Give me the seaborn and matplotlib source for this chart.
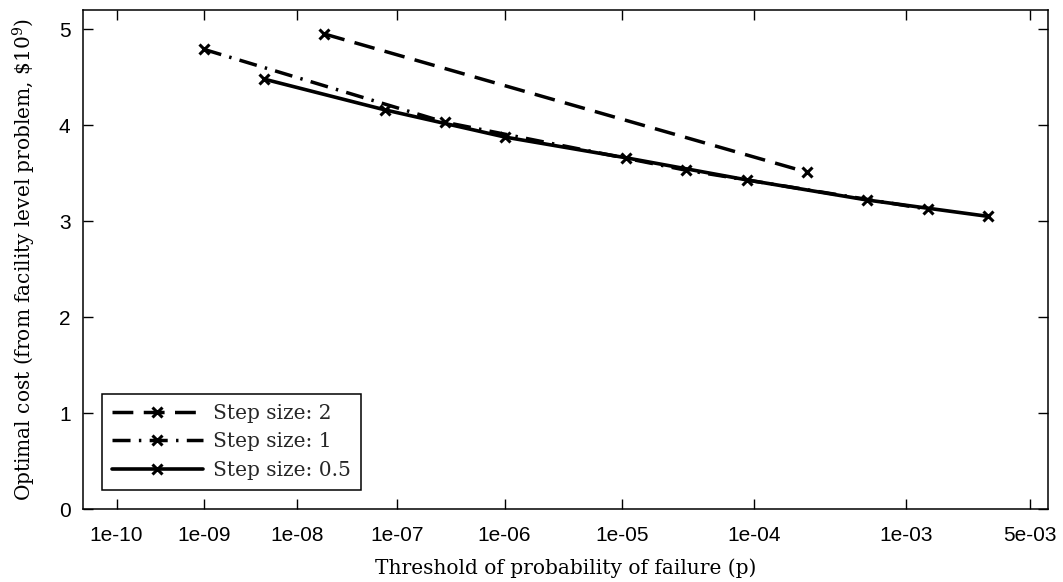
import math
import numpy as np
import matplotlib
matplotlib.use("Agg")
import matplotlib.pyplot as plt
import seaborn as sns

# failure probability threshold (x) vs optimal cost in $10^9 (y)
p_step2 = [1.9e-8, 2.33e-4]
cost_step2 = [4.95, 3.51]

p_step1 = [9.9e-10, 2.87e-7, 3.17e-5, 1.35e-3]
cost_step1 = [4.79, 4.03, 3.53, 3.125]

p_step05 = [4.46e-9, 7.6e-8, 1.02e-6, 1.07e-5, 8.84e-5, 5.77e-4, 2.98e-3]
cost_step05 = [4.48, 4.16, 3.875, 3.66, 3.43, 3.22, 3.05]

x_ticks = [1e-10, 1e-9, 1e-8, 1e-7, 1e-6, 1e-5, 1e-4, 1e-3, 5e-3]
x_tick_labels = ["1e-10", "1e-09", "1e-08", "1e-07", "1e-06",
                 "1e-05", "1e-04", "1e-03", "5e-03"]
x_limits = [4.0e-11, 6.2e-3]
y_ticks = [0, 1, 2, 3, 4, 5]


# normal quantile scale (probit) for the x axis
def _ppf(p):
    if not np.isfinite(p):
        return np.nan
    a = [-3.969683028665376e+01, 2.209460984245205e+02, -2.759285104469687e+02,
         1.383577518672690e+02, -3.066479806614716e+01, 2.506628277459239e+00]
    b = [-5.447609879822406e+01, 1.615858368580409e+02, -1.556989798598866e+02,
         6.680131188771972e+01, -1.328068155288572e+01]
    c = [-7.784894002430293e-03, -3.223964580411365e-01, -2.400758277161838e+00,
         -2.549732539343734e+00, 4.374664141464968e+00, 2.938163982698783e+00]
    d = [7.784695709041462e-03, 3.224671290700398e-01, 2.445134137142996e+00,
         3.754408661907416e+00]
    p = min(max(p, 1e-300), 1 - 1e-16)
    plow = 0.02425
    if p < plow:
        q = math.sqrt(-2 * math.log(p))
        x = (((((c[0]*q+c[1])*q+c[2])*q+c[3])*q+c[4])*q+c[5]) / \
            ((((d[0]*q+d[1])*q+d[2])*q+d[3])*q+1)
    elif p > 1 - plow:
        q = math.sqrt(-2 * math.log(1 - p))
        x = -(((((c[0]*q+c[1])*q+c[2])*q+c[3])*q+c[4])*q+c[5]) / \
            ((((d[0]*q+d[1])*q+d[2])*q+d[3])*q+1)
    else:
        q = p - 0.5
        r = q * q
        x = (((((a[0]*r+a[1])*r+a[2])*r+a[3])*r+a[4])*r+a[5])*q / \
            (((((b[0]*r+b[1])*r+b[2])*r+b[3])*r+b[4])*r+1)
    # one refinement step
    e = 0.5 * math.erfc(-x / math.sqrt(2)) - p
    u = e * math.sqrt(2 * math.pi) * math.exp(x * x / 2)
    return x - u / (1 + x * u / 2)


def _cdf(z):
    if np.isnan(z):
        return np.nan
    return 0.5 * math.erfc(-z / math.sqrt(2))


ppf = np.vectorize(_ppf, otypes=[float])
cdf = np.vectorize(_cdf, otypes=[float])


def forward(v):
    return ppf(np.asarray(v, dtype=float))


def inverse(v):
    return cdf(np.asarray(v, dtype=float))


sns.set_theme(style="ticks")
plt.rcParams["font.family"] = ["DejaVu Serif"]
plt.rcParams["mathtext.fontset"] = "dejavuserif"

fig = plt.figure(figsize=(10.63, 5.82), dpi=100)
ax = fig.add_axes([0.0781, 0.1254, 0.9078, 0.8574])
ax.set_xscale("function", functions=(forward, inverse))

mk = dict(marker="x", markersize=7, markeredgewidth=2.2,
          markeredgecolor="black", markerfacecolor="black")
sns.lineplot(x=p_step2, y=cost_step2, ax=ax, color="black", lw=2.5,
             linestyle=(0, (6, 3)), label="Step size: 2", **mk)
sns.lineplot(x=p_step1, y=cost_step1, ax=ax, color="black", lw=2.5,
             linestyle=(0, (5.2, 2.4, 0.7, 2.4)), label="Step size: 1", **mk)
sns.lineplot(x=p_step05, y=cost_step05, ax=ax, color="black", lw=2.6,
             linestyle="-", label="Step size: 0.5", **mk)

ax.set_xlim(x_limits)
ax.set_ylim(0, 5.2)
ax.set_xticks(x_ticks)
ax.set_xticklabels(x_tick_labels)
ax.set_yticks(y_ticks)
ax.set_yticklabels([str(t) for t in y_ticks])
ax.minorticks_off()

for s in ax.spines.values():
    s.set_visible(True)
    s.set_color("black")
    s.set_linewidth(1.1)
ax.tick_params(direction="in", length=7.5, width=1, color="black",
               top=True, right=True, labelsize=15, labelcolor="black")
ax.tick_params(axis="x", pad=12)
ax.tick_params(axis="y", pad=9)
for lab in ax.get_xticklabels() + ax.get_yticklabels():
    lab.set_family("Liberation Sans")

ax.set_xlabel("Threshold of probability of failure (p)", fontsize=14.5,
              color="black", labelpad=10)
ax.set_ylabel(r"Optimal cost (from facility level problem, \$10$^9$)",
              fontsize=14.5, color="black", labelpad=15)

leg = ax.legend(loc="lower left", bbox_to_anchor=(19 / 965, 19 / 499),
                borderaxespad=0, fancybox=False, framealpha=1,
                edgecolor="black", fontsize=14.5, handlelength=4.5,
                handletextpad=0.5, labelspacing=0.48, borderpad=0.5)
leg.get_frame().set_linewidth(1.1)

fig.savefig("out.png", dpi=100)
